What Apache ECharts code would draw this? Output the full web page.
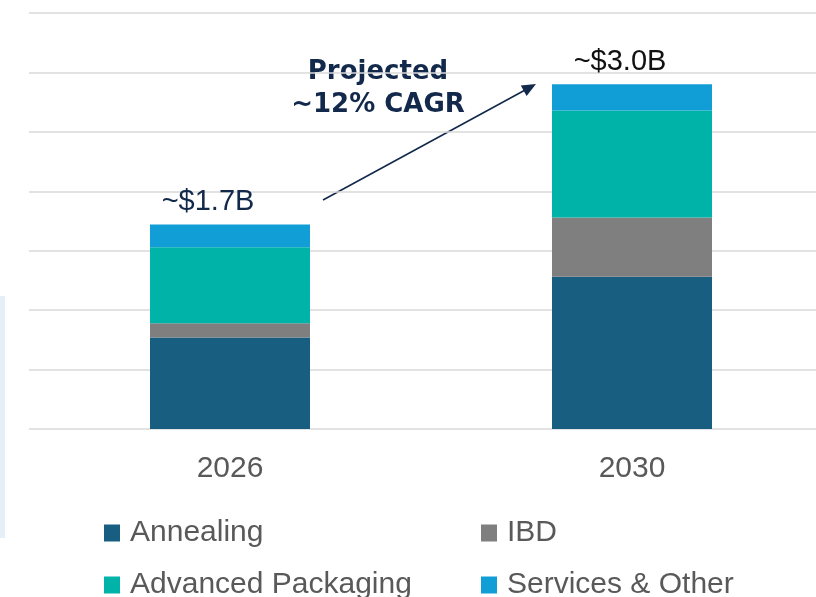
<!DOCTYPE html>
<html>
<head>
<meta charset="utf-8">
<script src="https://cdn.jsdelivr.net/npm/echarts@6/dist/echarts.min.js"></script>
<style>
html, body { margin: 0; padding: 0; background: #fff; }
#chart { width: 816px; height: 597px; }
</style>
</head>
<body>
<div id="chart"></div>
<script>
// market size by segment, $B
var years = ['2026', '2030'];
var annealing = [0.77, 1.28];
var ibd = [0.12, 0.50];
var advPackaging = [0.64, 0.90];
var services = [0.19, 0.22];
var totalLabels = ['~$1.7B', '~$3.0B'];

var names = ['Annealing', 'IBD', 'Advanced Packaging', 'Services & Other'];
var colors = ['#175e80', '#7f7f7f', '#00b3a8', '#119ed7'];
var font = '"Liberation Sans", Arial, sans-serif';

var chart = echarts.init(document.getElementById('chart'));

function bar(name, data, color) {
    return {
        name: name,
        type: 'bar',
        stack: 'total',
        barWidth: '39.8%',
        itemStyle: { color: color },
        data: data
    };
}

function legendAt(name, left, top) {
    return {
        data: [name],
        left: left,
        top: top,
        icon: 'rect',
        itemWidth: 16,
        itemHeight: 17,
        selectedMode: false,
        textStyle: { fontFamily: font, fontSize: 30, color: '#595959', padding: [0, 0, 0, 5], lineHeight: 30 }
    };
}

var series = [
    bar(names[0], annealing, colors[0]),
    bar(names[1], ibd, colors[1]),
    bar(names[2], advPackaging, colors[2]),
    bar(names[3], services, colors[3])
];
// total labels on top of the stack; first one navy, second black
series[3].label = {
    show: true,
    position: 'top',
    distance: 8,
    offset: [-17, 0],
    fontFamily: font,
    fontSize: 29,
    formatter: function (p) {
        return (p.dataIndex === 0 ? '{a|' : '{b|') + totalLabels[p.dataIndex] + '}';
    },
    rich: {
        a: { fontFamily: font, fontSize: 29, color: '#13294b', padding: [0, 10, 0, 0] },
        b: { fontFamily: font, fontSize: 29, color: '#111111', padding: [0, 0, 0, 10] }
    }
};

chart.setOption({
    animation: false,
    grid: { left: 29, width: 804, top: 13, bottom: 168, outerBoundsMode: 'none' },
    xAxis: {
        type: 'category',
        data: years,
        axisLine: { show: false },
        axisTick: { show: false },
        axisLabel: { fontFamily: font, fontSize: 30, color: '#595959', margin: 25 }
    },
    yAxis: {
        type: 'value',
        min: 0,
        max: 3.5,
        interval: 0.5,
        axisLabel: { show: false },
        axisLine: { show: false },
        axisTick: { show: false },
        splitLine: { lineStyle: { color: '#d9d9d9', width: 1.5 } }
    },
    legend: [
        legendAt(names[0], 99, 513),
        legendAt(names[1], 476, 513),
        legendAt(names[2], 99, 565),
        legendAt(names[3], 476, 565)
    ],
    graphic: [
        { type: 'rect', left: 0, top: 296, shape: { width: 5, height: 242 }, style: { fill: '#e4effa' } },
        {
            type: 'text', x: 378, y: 56,
            style: {
                text: 'Projected\n~12% CAGR', align: 'center',
                font: 'bold 26px "DejaVu Sans", sans-serif', lineHeight: 33, fill: '#13294b'
            }
        },
        { type: 'line', shape: { x1: 323, y1: 200, x2: 527, y2: 89 }, style: { stroke: '#13294b', lineWidth: 1.6 } },
        { type: 'polygon', shape: { points: [[536, 84], [520.8, 85.5], [526.6, 96.1]] }, style: { fill: '#13294b' } }
    ],
    series: series
});
</script>
</body>
</html>
